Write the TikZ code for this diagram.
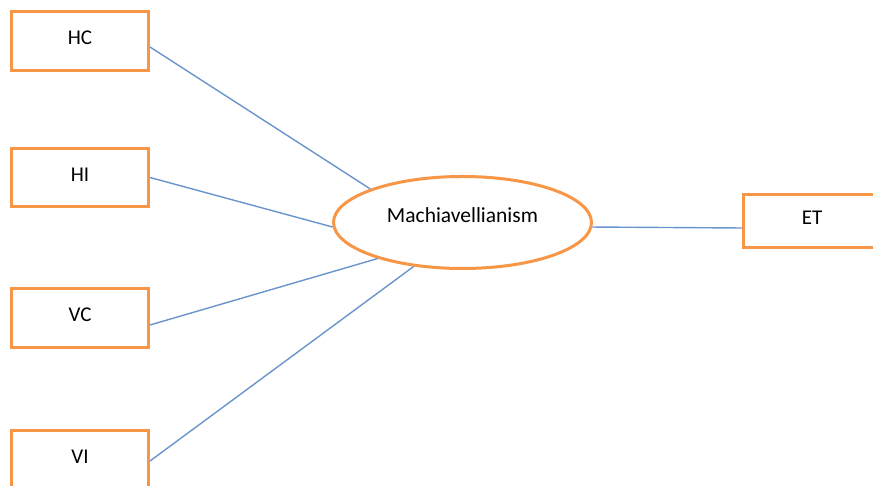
\documentclass[tikz,border=0pt]{standalone}
\usepackage{fontspec}
\setmainfont{Carlito}
\usetikzlibrary{shapes.geometric}
\definecolor{boxorange}{HTML}{F79646}
\definecolor{linkblue}{HTML}{6A95CC}
\tikzset{
  varbox/.style={draw=boxorange, line width=3pt, fill=white, rectangle,
    minimum width=137pt, minimum height=59pt, inner sep=0pt,
    font=\fontsize{21}{24}\selectfont, text=black, text depth=6pt},
  central/.style={draw=boxorange, line width=3pt, fill=white, ellipse,
    minimum width=258pt, minimum height=92pt, inner sep=0pt,
    font=\fontsize{21.5}{24}\selectfont, text=black, text depth=15pt},
  link/.style={draw=linkblue, line width=1.4pt}
}
\begin{document}
\begin{tikzpicture}[x=1pt,y=1pt]
\useasboundingbox (0,0) rectangle (873,486);
\node[varbox] (hc) at (80,445) {HC};
\node[varbox, minimum height=58pt] (hi) at (80,308.5) {HI};
\node[varbox] (vc) at (80,168) {VC};
\node[varbox] (vi) at (80,26) {VI};
\node[varbox, minimum height=53pt] (et) at (812,265) {ET};
\node[central] (m) at (462.5,263.5) {Machiavellianism};
\draw[link] ([yshift=-6pt]hc.east) -- (m.160.9);
\draw[link] (hi.east) -- (m.182.4);
\draw[link] ([yshift=-7pt]vc.east) -- (m.203.7);
\draw[link] ([yshift=-1pt]vi.east) -- (m.222);
\draw[link] (m.-2.5) -- ([yshift=-7pt]et.west);
\end{tikzpicture}
\end{document}
